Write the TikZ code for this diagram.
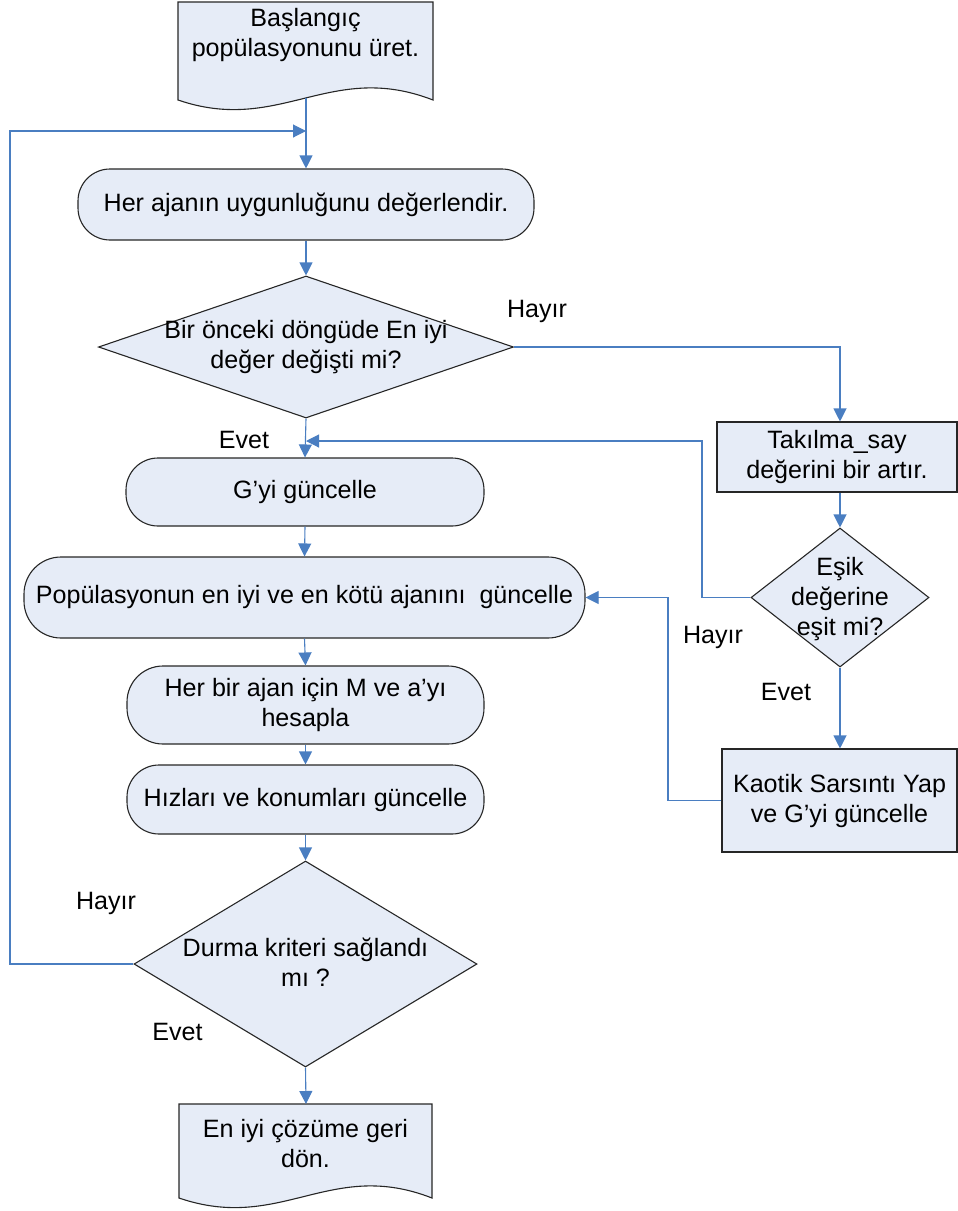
\documentclass[tikz,border=0pt]{standalone}
\usepackage{fontspec}
\setmainfont{Liberation Sans}
\usetikzlibrary{shapes.geometric,arrows.meta,calc}
\definecolor{boxfill}{RGB}{230,236,247}
\definecolor{arrowblue}{RGB}{74,126,193}
\tikzset{
  txt/.style={font=\fontsize{25.1}{30}\selectfont, align=center, inner sep=0pt},
  shapeline/.style={draw=black!85, fill=boxfill, line width=1.1pt},
  rbox/.style={shapeline, txt, rounded corners=32pt},
  sbox/.style={shapeline, txt},
  dia/.style={shapeline, diamond, inner sep=0pt},
  arr/.style={draw=arrowblue, line width=1.1pt, -{Triangle[length=13pt,width=13pt]}},
  lbl/.style={txt}
}
\begin{document}
\begin{tikzpicture}[x=1pt,y=-1pt]
\useasboundingbox (0,0) rectangle (958,1211);

% start document shape
\draw[shapeline] (178,2) -- (433,2) -- (433,100)
  .. controls (330,60) and (280,135) .. (178,100) -- cycle;
\node[txt] (start) at (305.5,35) {Başlangıç\\popülasyonunu üret.};
\coordinate (startbot) at (306,98);
\coordinate (loopin) at (306,131);

\node[rbox, minimum width=456pt, minimum height=71pt] (eval) at (306,204.5) {Her ajanın uygunluğunu değerlendir.};

\node[dia, minimum width=415pt, minimum height=142pt] (d1) at (306,347) {};
\node[txt] (d1t) at (d1.center) {Bir önceki döngüde En iyi\\değer değişti mi?};

\node[sbox, minimum width=240pt, minimum height=70pt] (tak) at (837,457) {Takılma\_say\\değerini bir artır.};

\node[dia, minimum width=178pt, minimum height=139pt] (d2) at (840,597.5) {};
\node[txt] (d2t) at (840,599) {Eşik\\değerine\\eşit mi?};

\node[sbox, minimum width=235pt, minimum height=103pt] (kaotik) at (839.5,800.5) {Kaotik Sarsıntı Yap\\ve G’yi güncelle};

\coordinate (evetin) at (306,441);
\node[rbox, minimum width=358pt, minimum height=68pt] (gup) at (305,492) {G’yi güncelle};
\node[rbox, rounded corners=37pt, minimum width=561pt, minimum height=81pt] (pop) at (304.5,597.5) {Popülasyonun en iyi ve en kötü ajanını\ \ güncelle};
\node[rbox, rounded corners=36pt, minimum width=357pt, minimum height=78pt] (herbir) at (305.5,705) {Her bir ajan için M ve a’yı\\hesapla};
\node[rbox, minimum width=357pt, minimum height=69pt] (hiz) at (305.5,799.5) {Hızları ve konumları güncelle};

\node[dia, minimum width=343pt, minimum height=206pt] (d3) at (305.5,964) {};
\node[txt] (d3t) at (305.5,962.5) {Durma kriteri sağlandı\\mı ?};

% end document shape
\draw[shapeline] (179,1104) -- (432,1104) -- (432,1198)
  .. controls (330,1158) and (281,1233) .. (179,1198) -- cycle;
\node[txt] (endt) at (305.5,1144) {En iyi çözüme geri\\dön.};
\coordinate (endtop) at (306,1104);

% labels
\node[lbl] (l1) at (537,311) {Hayır};
\node[lbl] (l2) at (244,440) {Evet};
\node[lbl] (l3) at (713,637) {Hayır};
\node[lbl] (l4) at (786,692) {Evet};
\node[lbl] (l5) at (106,903) {Hayır};
\node[lbl] (l6) at (177.5,1032) {Evet};

% connectors
\draw[arr] (startbot) -- (eval.north);
\draw[arr] (d3.west) -- (10,964) |- (loopin);
\draw[arr] (eval.south) -- (d1.north);
\draw[arr] (d1.south) -- (gup.north);
\draw[arr] (d1.east) -| (tak.north -| d2.north);
\draw[arr] (tak.south -| d2.north) -- (d2.north);
\draw[arr] (d2.west) -- (702,597.5) |- (evetin);
\draw[arr] (d2.south) -- (d2.south |- kaotik.north);
\draw[arr] (kaotik.west) -- (668,800.5) |- (pop.east);
\draw[arr] (gup.south) -- (pop.north);
\draw[arr] (pop.south) -- (herbir.north);
\draw[arr] (herbir.south) -- (hiz.north);
\draw[arr] (hiz.south) -- (d3.north);
\draw[arr] (d3.south) -- (endtop);
\end{tikzpicture}
\end{document}
